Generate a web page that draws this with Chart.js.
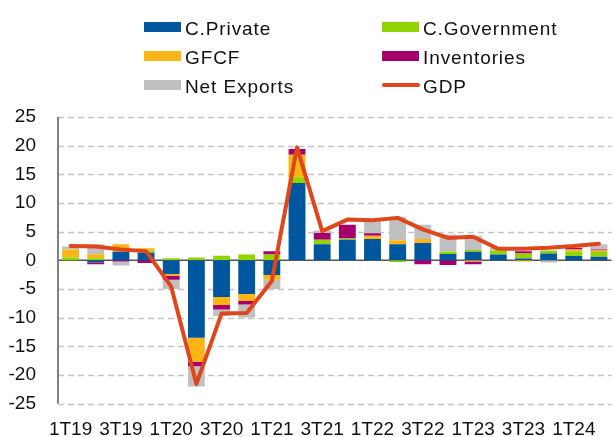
<!DOCTYPE html>
<html>
<head>
<meta charset="utf-8">
<script src="https://cdn.jsdelivr.net/npm/chart.js@4.4.1/dist/chart.umd.min.js"></script>
<style>
  html, body { margin: 0; padding: 0; background: #fff; }
  #wrap { position: relative; width: 614px; height: 437px; }
  #chart { position: absolute; left: 0; top: 0; }
  .leg { position: absolute; font-family: "Liberation Sans", Arial, sans-serif; font-size: 19px; letter-spacing: 0.9px; color: #111; line-height: 19px; white-space: nowrap; }
  .sw { position: absolute; width: 37px; height: 10px; }
  .ln { position: absolute; width: 38px; height: 4px; border-radius: 2px; }
</style>
</head>
<body>
<div id="wrap">
  <canvas id="chart" width="614" height="437"></canvas>
  <div id="legend"></div>
</div>
<script>
// Quarterly contributions to GDP growth (percentage points)
const quarters = ['1T19','2T19','3T19','4T19','1T20','2T20','3T20','4T20','1T21','2T21','3T21','4T21',
                  '1T22','2T22','3T22','4T22','1T23','2T23','3T23','4T23','1T24','2T24'];

const privateConsumption = [0, -0.4, 1.5, 1.3, -2.4, -13.5, -6.4, -5.9, -2.55, 13.5, 2.8, 3.6,
                            3.7, 2.8, 3.0, 1.1, 1.5, 1.0, 0.3, 1.2, 0.75, 0.6];
const governmentConsumption = [0.5, 0.35, 0, 0.4, 0.35, 0.5, 0.8, 1.0, 1.0, 1.0, 0.8, 0.2,
                               0, -0.3, 0, 0.4, 0.3, 0.7, 0.9, 0.5, 0.8, 0.85];
const gfcf = [1.4, 0.7, 1.3, 0.4, -0.3, -4.2, -1.4, -1.2, -0.85, 3.9, 0, 0,
              0.6, 0.7, 0.7, 0, -0.2, 0, -0.2, 0, 0.35, 0.25];
const inventories = [0, -0.3, -0.2, -0.45, -0.7, -0.8, -0.8, -0.6, 0.6, 1.0, 1.15, 2.4,
                     0.4, 0, -0.7, -0.8, -0.5, 0, 0.4, 0, 0.3, 0.2];
const netExports = [0.5, 1.75, -0.7, 0, -1.6, -3.5, -1.1, -2.3, -1.6, 0, 0.45, 0,
                    2.3, 4.1, 2.5, 3.0, 2.5, 0.5, 0, -0.4, 0, 0.9];
const gdp = [2.5, 2.4, 1.9, 1.6, -4.6, -21.6, -9.3, -9.2, -3.6, 19.7, 5.1, 7.1,
             7.0, 7.4, 5.4, 3.9, 4.1, 2.0, 2.0, 2.2, 2.5, 2.9];

const COLORS = {
  priv: '#00579D',
  gov: '#92D400',
  gfcf: '#FDB515',
  inv: '#A6006F',
  net: '#C0C0C0',
  gdp: '#E0461B'
};

const FONT = '"Liberation Sans", Arial, sans-serif';

// Two-column legend above the plot
const legendItems = [
  { label: 'C.Private',   color: COLORS.priv, x: 144, y: 22, type: 'box' },
  { label: 'C.Government', color: COLORS.gov, x: 382, y: 22, type: 'box' },
  { label: 'GFCF',        color: COLORS.gfcf, x: 144, y: 51, type: 'box' },
  { label: 'Inventories', color: COLORS.inv,  x: 382, y: 51, type: 'box' },
  { label: 'Net Exports', color: COLORS.net,  x: 144, y: 80, type: 'box' },
  { label: 'GDP',         color: COLORS.gdp,  x: 382, y: 80, type: 'line' }
];
const legendEl = document.getElementById('legend');
legendItems.forEach(it => {
  const mark = document.createElement('div');
  if (it.type === 'box') {
    mark.className = 'sw';
    mark.style.left = it.x + 'px';
    mark.style.top = it.y + 'px';
  } else {
    mark.className = 'ln';
    mark.style.left = it.x + 'px';
    mark.style.top = (it.y + 3) + 'px';
  }
  mark.style.background = it.color;
  legendEl.appendChild(mark);
  const txt = document.createElement('div');
  txt.className = 'leg';
  txt.textContent = it.label;
  txt.style.left = (it.x + 41) + 'px';
  txt.style.top = (it.y - 3) + 'px';
  legendEl.appendChild(txt);
});

// Dashed horizontal grid, solid zero line and vertical axis line
const axisLines = {
  id: 'axisLines',
  beforeDatasetsDraw(chart) {
    const { ctx, chartArea, scales } = chart;
    const ys = scales.y;
    ctx.save();
    ctx.strokeStyle = '#C4C4C4';
    ctx.lineWidth = 1.5;
    ctx.setLineDash([6, 4]);
    ys.ticks.forEach(t => {
      if (t.value === 0) return;
      const y = Math.round(ys.getPixelForValue(t.value)) + 0.5;
      ctx.beginPath();
      ctx.moveTo(chartArea.left, y);
      ctx.lineTo(chartArea.right, y);
      ctx.stroke();
    });
    ctx.setLineDash([]);
    const y0 = ys.getPixelForValue(0);
    ctx.strokeStyle = '#555555';
    ctx.lineWidth = 1.5;
    ctx.beginPath();
    ctx.moveTo(chartArea.left, y0);
    ctx.lineTo(chartArea.right, y0);
    ctx.stroke();
    ctx.strokeStyle = '#808080';
    ctx.lineWidth = 2;
    ctx.beginPath();
    ctx.moveTo(chartArea.left, chartArea.top);
    ctx.lineTo(chartArea.left, chartArea.bottom);
    ctx.stroke();
    ctx.restore();
  }
};

const barSet = (label, data, color) => ({
  type: 'bar', label, data, backgroundColor: color, borderWidth: 0, order: 1,
  barPercentage: 0.67, categoryPercentage: 1.0, stack: 'contrib'
});

const chart = new Chart(document.getElementById('chart'), {
  data: {
    labels: quarters,
    datasets: [
      { type: 'line', label: 'GDP', data: gdp, borderColor: COLORS.gdp, borderWidth: 4,
        pointRadius: 0, tension: 0, order: 0, borderJoinStyle: 'round', borderCapStyle: 'round', stack: 'gdp' },
      barSet('C.Private', privateConsumption, COLORS.priv),
      barSet('C.Government', governmentConsumption, COLORS.gov),
      barSet('GFCF', gfcf, COLORS.gfcf),
      barSet('Inventories', inventories, COLORS.inv),
      barSet('Net Exports', netExports, COLORS.net)
    ]
  },
  options: {
    responsive: false,
    animation: false,
    devicePixelRatio: 1,
    layout: { padding: { top: 117, right: 0, left: 0, bottom: 0 } },
    plugins: { legend: { display: false }, tooltip: { enabled: false } },
    scales: {
      x: {
        stacked: true,
        grid: { display: false, drawTicks: false },
        border: { display: false },
        ticks: {
          autoSkip: false, maxRotation: 0, minRotation: 0, padding: 15,
          color: '#111', font: { family: FONT, size: 19 },
          callback: (v, i) => (i % 2 === 0 ? quarters[i] : '')
        },
        afterFit: s => { s.height = 32; }
      },
      y: {
        stacked: true,
        min: -25, max: 25,
        grid: { display: false, drawTicks: false },
        border: { display: false },
        ticks: { stepSize: 5, padding: 22, color: '#111', font: { family: FONT, size: 19 } },
        afterFit: s => { s.width = 58; }
      }
    }
  },
  plugins: [axisLines]
});

// Pin the plot area to its intended box (top 117, bottom 405)
for (let k = 0; k < 3; k++) {
  const ca = chart.chartArea;
  const pad = chart.options.layout.padding;
  pad.top += 117 - ca.top;
  pad.bottom += ca.bottom - 405;
  chart.update();
}
</script>
</body>
</html>
